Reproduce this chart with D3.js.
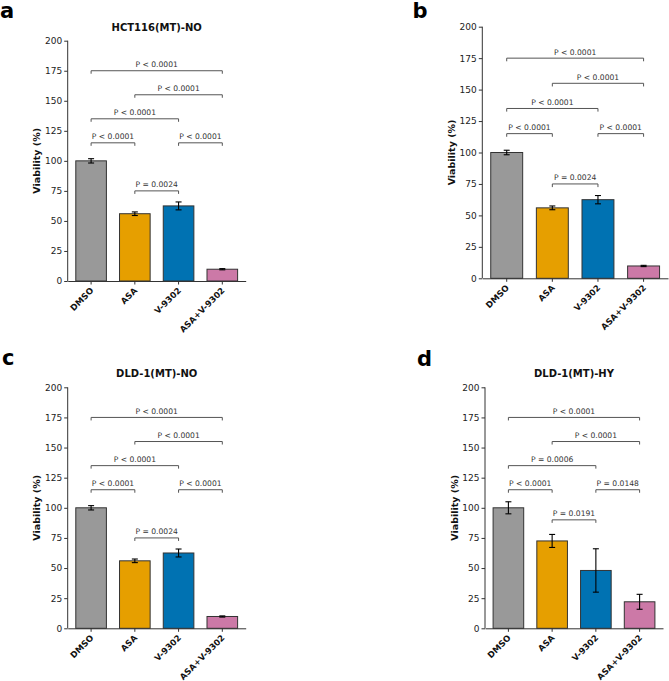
<!DOCTYPE html>
<html>
<head>
<meta charset="utf-8">
<script src="https://cdn.jsdelivr.net/npm/d3@7/dist/d3.min.js"></script>
<style>
  html, body { margin: 0; padding: 0; background: #fff; }
  svg { display: block; font-family: "DejaVu Sans", sans-serif; }
</style>
</head>
<body>
<svg id="chart" width="669" height="681"></svg>
<script>
// ---------- DATA ----------
const categories = ["DMSO", "ASA", "V-9302", "ASA+V-9302"];
const barColors = ["#999999", "#E69F00", "#0072B2", "#CC79A7"];
const yTicks = [0, 25, 50, 75, 100, 125, 150, 175, 200];

const meansNO = [100, 56, 62.5, 9.8];
const errsNO  = [1.8, 1.5, 3.3, 0.5];
const meansHY = [100, 72.5, 48, 22];
const errsHY  = [5, 5.4, 18, 6.2];

const pairStart = [0, 2, 0, 1, 0, 1];
const pairEnd   = [1, 3, 2, 3, 3, 2];
const levelsNO  = [115, 115, 135, 155, 175, 75];
const levelsHY  = [115, 115, 135, 155, 175, 90];
const pLabelsNO = ["P < 0.0001", "P < 0.0001", "P < 0.0001", "P < 0.0001", "P < 0.0001", "P = 0.0024"];
const pLabelsHY = ["P < 0.0001", "P = 0.0148", "P = 0.0006", "P < 0.0001", "P < 0.0001", "P = 0.0191"];

const panelTitles = ["HCT116(MT)-NO", "", "DLD-1(MT)-NO", "DLD-1(MT)-HY"];
const panelLetters = ["a", "b", "c", "d"];

// ---------- LAYOUT ----------
const panels = [
  { letter: panelLetters[0], title: panelTitles[0], means: meansNO, errs: errsNO, levels: levelsNO, labels: pLabelsNO,
    left: 67.7, right: 245.7, top: 40.7, bottom: 281, lx: 0, ly: 18 },
  { letter: panelLetters[1], title: panelTitles[1], means: meansNO, errs: errsNO, levels: levelsNO, labels: pLabelsNO,
    left: 482.3, right: 668, top: 26.7, bottom: 278.3, lx: 412.5, ly: 18 },
  { letter: panelLetters[2], title: panelTitles[2], means: meansNO, errs: errsNO, levels: levelsNO, labels: pLabelsNO,
    left: 67.7, right: 245.7, top: 387.3, bottom: 628.3, lx: 2, ly: 365 },
  { letter: panelLetters[3], title: panelTitles[3], means: meansHY, errs: errsHY, levels: levelsHY, labels: pLabelsHY,
    left: 485, right: 663, top: 387.3, bottom: 628.3, lx: 417, ly: 366 }
];

const svg = d3.select("#chart");
const axisColor = "#333";

panels.forEach(p => {
  const g = svg.append("g");

  const x = d3.scaleBand().domain(categories).range([p.left, p.right])
    .paddingInner(0.3).paddingOuter(0.185);
  const y = d3.scaleLinear().domain([0, 200]).range([p.bottom, p.top]);
  const cx = c => x(c) + x.bandwidth() / 2;

  // panel letter
  g.append("text").attr("x", p.lx).attr("y", p.ly)
    .attr("font-size", 21).attr("font-weight", "bold").attr("fill", "#000")
    .text(p.letter);

  // title
  if (p.title) {
    g.append("text").attr("x", (p.left + p.right) / 2).attr("y", p.top - 10)
      .attr("text-anchor", "middle").attr("font-size", 10).attr("font-weight", "bold")
      .attr("fill", "#111").text(p.title);
  }

  // bars
  g.selectAll("rect.bar").data(categories).join("rect")
    .attr("class", "bar")
    .attr("x", d => x(d)).attr("width", x.bandwidth())
    .attr("y", (d, i) => y(p.means[i]))
    .attr("height", (d, i) => y(0) - y(p.means[i]))
    .attr("fill", (d, i) => barColors[i])
    .attr("stroke", "#333").attr("stroke-width", 1);

  // error bars
  const eb = g.selectAll("g.err").data(categories).join("g").attr("class", "err")
    .attr("stroke", "#000").attr("stroke-width", 1.1);
  eb.append("line")
    .attr("x1", d => cx(d)).attr("x2", d => cx(d))
    .attr("y1", (d, i) => y(p.means[i] - p.errs[i]))
    .attr("y2", (d, i) => y(p.means[i] + p.errs[i]));
  eb.append("line")
    .attr("x1", d => cx(d) - 3).attr("x2", d => cx(d) + 3)
    .attr("y1", (d, i) => y(p.means[i] + p.errs[i]))
    .attr("y2", (d, i) => y(p.means[i] + p.errs[i]));
  eb.append("line")
    .attr("x1", d => cx(d) - 3).attr("x2", d => cx(d) + 3)
    .attr("y1", (d, i) => y(p.means[i] - p.errs[i]))
    .attr("y2", (d, i) => y(p.means[i] - p.errs[i]));

  // y axis
  const yAxis = g.append("g").attr("transform", `translate(${p.left},0)`)
    .call(d3.axisLeft(y).tickValues(yTicks).tickSize(3.5).tickPadding(2).tickFormat(d3.format("d")));
  yAxis.select(".domain").attr("stroke", axisColor).attr("stroke-width", 1).attr("d", `M0,${p.top}V${p.bottom}`);
  yAxis.selectAll(".tick line").attr("stroke", axisColor);
  yAxis.selectAll(".tick text").attr("font-size", 9).attr("fill", "#222")
    .attr("font-family", "DejaVu Sans");

  // x axis
  const xAxis = g.append("g").attr("transform", `translate(0,${p.bottom})`)
    .call(d3.axisBottom(x).tickSize(3.5).tickSizeOuter(0));
  xAxis.select(".domain").attr("stroke", axisColor).attr("stroke-width", 1);
  xAxis.selectAll(".tick line").attr("stroke", axisColor);
  xAxis.selectAll(".tick text")
    .attr("font-size", 8.5).attr("font-weight", "bold").attr("fill", "#111")
    .attr("font-family", "DejaVu Sans")
    .attr("text-anchor", "end")
    .attr("dy", null).attr("y", null)
    .attr("transform", "translate(3,10) rotate(-45)");

  // y label
  g.append("text")
    .attr("transform", `translate(${p.left - 31},${(p.top + p.bottom) / 2}) rotate(-90)`)
    .attr("text-anchor", "middle").attr("dominant-baseline", "central")
    .attr("font-size", 9.5).attr("font-weight", "bold").attr("fill", "#111")
    .text("Viability (%)");

  // significance brackets
  pairStart.forEach((s, k) => {
    const x1 = cx(categories[s]), x2 = cx(categories[pairEnd[k]]);
    const lv = p.levels[k];
    g.append("path")
      .attr("d", `M${x1},${y(lv - 2.5)}V${y(lv)}H${x2}V${y(lv - 2.5)}`)
      .attr("fill", "none").attr("stroke", "#555").attr("stroke-width", 1);
    g.append("text")
      .attr("x", (x1 + x2) / 2).attr("y", y(lv) - 3.5)
      .attr("text-anchor", "middle").attr("font-size", 7.6).attr("fill", "#333")
      .text(p.labels[k]);
  });
});
</script>
</body>
</html>
